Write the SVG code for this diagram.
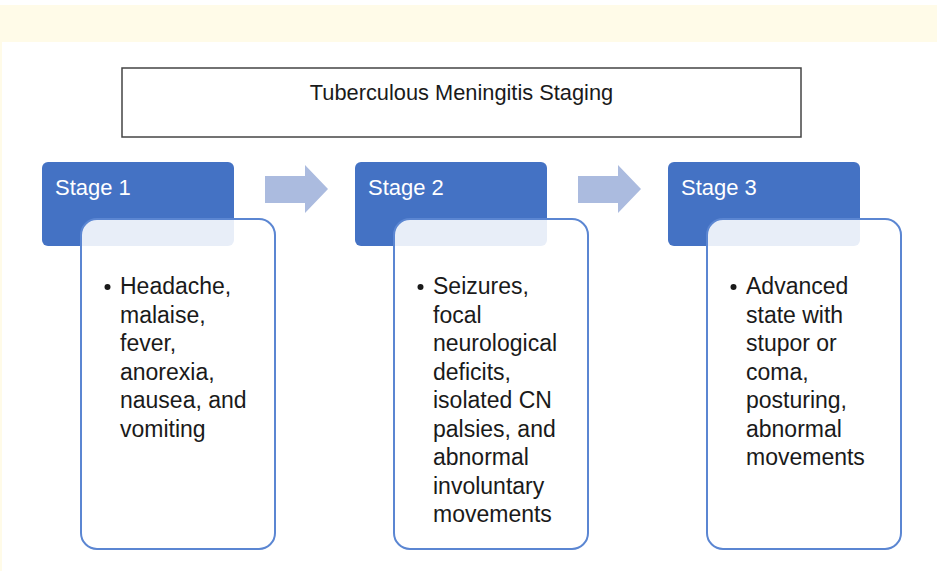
<svg xmlns="http://www.w3.org/2000/svg" width="937" height="571" viewBox="0 0 937 571">
<style>
.hdr{fill:#4472c4}
.body{fill:#ffffff;fill-opacity:0.88;stroke:#5b86d2;stroke-width:2}
.arrow{fill:#abbbdf}
.ht{font-family:"Liberation Sans",Arial,sans-serif;font-size:22px;fill:#ffffff}
.bt{font-family:"Liberation Sans",Arial,sans-serif;font-size:23px;fill:#1a1a1a}
.tt{font-family:"Liberation Sans",Arial,sans-serif;font-size:21.8px;fill:#1a1a1a}
</style>
<rect x="0" y="0" width="937" height="571" fill="#ffffff"/>
<rect x="0" y="5" width="937" height="37" fill="#fffbe8"/>
<rect x="0" y="42" width="2" height="529" fill="#fffbe8"/>
<g id="title">
<rect x="122" y="68" width="679" height="69" fill="#ffffff" stroke="#444444" stroke-width="1.5"/>
<text class="tt" x="461.5" y="100" text-anchor="middle">Tuberculous Meningitis Staging</text>
</g>
<g id="connectors">
<polygon class="arrow" points="265,176 305,176 305,165 328,189 305,213 305,203 265,203"/>
<polygon class="arrow" points="578,176 618,176 618,165 641,189 618,213 618,203 578,203"/>
</g>
<g id="stage1">
<rect class="hdr" x="42" y="162" width="192" height="84" rx="6"/>
<text class="ht" x="55" y="195">Stage 1</text>
<rect class="body" x="81" y="219" width="194" height="330" rx="16"/>
<circle cx="107.5" cy="287" r="3" fill="#1a1a1a"/>
<text class="bt">
<tspan x="120" y="294">Headache,</tspan>
<tspan x="120" y="322.5">malaise,</tspan>
<tspan x="120" y="351">fever,</tspan>
<tspan x="120" y="379.5">anorexia,</tspan>
<tspan x="120" y="408">nausea, and</tspan>
<tspan x="120" y="436.5">vomiting</tspan>
</text>
</g>
<g id="stage2">
<rect class="hdr" x="355" y="162" width="192" height="84" rx="6"/>
<text class="ht" x="368" y="195">Stage 2</text>
<rect class="body" x="394" y="219" width="194" height="330" rx="16"/>
<circle cx="420.5" cy="287" r="3" fill="#1a1a1a"/>
<text class="bt">
<tspan x="433" y="294">Seizures,</tspan>
<tspan x="433" y="322.5">focal</tspan>
<tspan x="433" y="351">neurological</tspan>
<tspan x="433" y="379.5">deficits,</tspan>
<tspan x="433" y="408">isolated CN</tspan>
<tspan x="433" y="436.5">palsies, and</tspan>
<tspan x="433" y="465">abnormal</tspan>
<tspan x="433" y="493.5">involuntary</tspan>
<tspan x="433" y="522">movements</tspan>
</text>
</g>
<g id="stage3">
<rect class="hdr" x="668" y="162" width="192" height="84" rx="6"/>
<text class="ht" x="681" y="195">Stage 3</text>
<rect class="body" x="707" y="219" width="194" height="330" rx="16"/>
<circle cx="733.5" cy="287" r="3" fill="#1a1a1a"/>
<text class="bt">
<tspan x="746" y="294">Advanced</tspan>
<tspan x="746" y="322.5">state with</tspan>
<tspan x="746" y="351">stupor or</tspan>
<tspan x="746" y="379.5">coma,</tspan>
<tspan x="746" y="408">posturing,</tspan>
<tspan x="746" y="436.5">abnormal</tspan>
<tspan x="746" y="465">movements</tspan>
</text>
</g>
</svg>
